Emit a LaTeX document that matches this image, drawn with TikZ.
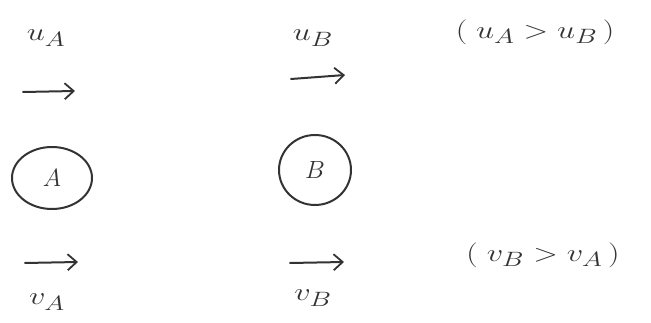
\documentclass[tikz,border=0pt]{standalone}
\usetikzlibrary{arrows.meta,shapes.geometric}
\begin{document}
\begin{tikzpicture}[x=1pt,y=-1pt,
  ink/.style={draw=black!80,line width=2pt},
  lbl/.style={text=black!80,font=\fontsize{32}{34}\selectfont,xscale=1.3},
  vel/.style={ink,-{Straight Barb[length=9pt,width=16pt,line width=1.8pt]},line cap=round},
  ball/.style={ink,ellipse,inner sep=0pt,font=\fontsize{24}{26}\selectfont,text=black!80}]
\useasboundingbox (0,0) rectangle (651,323);
% labels
\node[lbl] (ua) at (46,38) {$u_A$};
\node[lbl] (ub) at (313,38) {$u_B$};
\node[lbl] (cu) at (535,32) {$(\;u_A > u_B\,)$};
\node[lbl] (va) at (47,302) {$v_A$};
\node[lbl] (vb) at (313,298) {$v_B$};
\node[lbl] (cv) at (543,255) {$(\;v_B > v_A\,)$};
% balls
\node[ball,minimum width=80pt,minimum height=62pt] (A) at (52,178) {$A$};
\node[ball,minimum width=72pt,minimum height=70pt] (B) at (315,170) {$B$};
% arrow coordinates
\coordinate (a1s) at (23,92);
\coordinate (a1e) at (75,91);
\coordinate (b1s) at (291,79);
\coordinate (b1e) at (345,75);
\coordinate (a2s) at (25,263);
\coordinate (a2e) at (78,262);
\coordinate (b2s) at (290,263);
\coordinate (b2e) at (344,262);
\draw[vel] (a1s) -- (a1e);
\draw[vel] (b1s) -- (b1e);
\draw[vel] (a2s) -- (a2e);
\draw[vel] (b2s) -- (b2e);
\end{tikzpicture}
\end{document}
